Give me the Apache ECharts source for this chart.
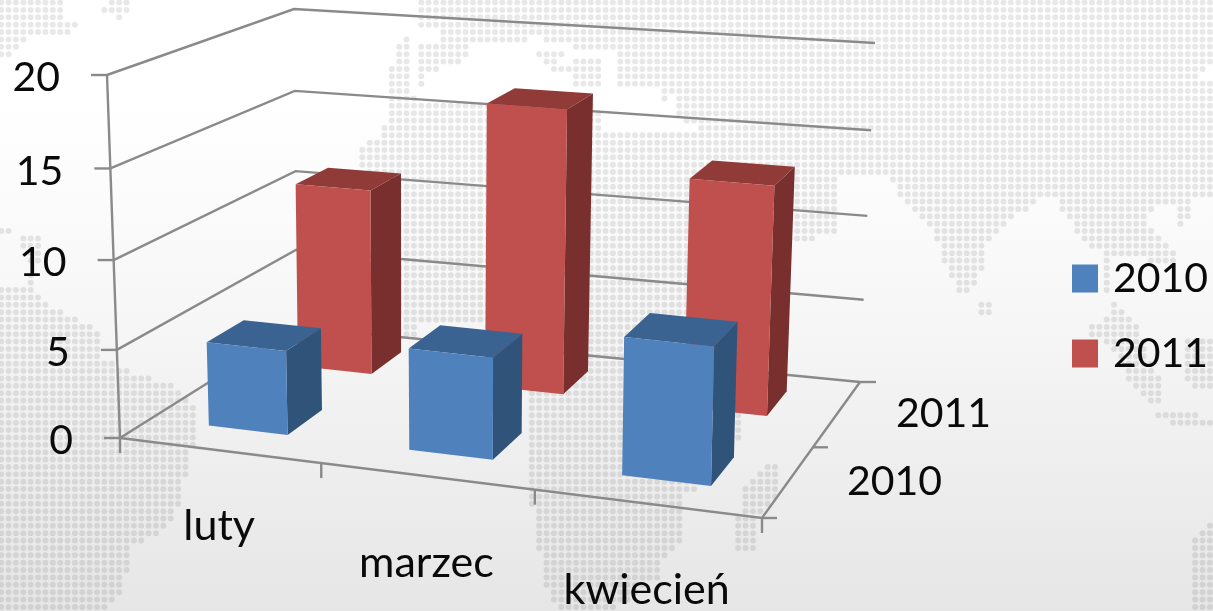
<!DOCTYPE html>
<html>
<head>
<meta charset="utf-8">
<style>html,body{margin:0;padding:0}#chart{width:1213px;height:611px}</style>
<script src="https://cdn.jsdelivr.net/npm/echarts@6/dist/echarts.min.js"></script>
</head>
<body>
<div id="chart"></div>
<script>
var categories = ['luty', 'marzec', 'kwiecień'];
var seriesNames = ['2010', '2011'];
var values2010 = [4.8, 5.7, 7.6];
var values2011 = [11.1, 16.7, 13.3];
var yTicks = [0, 5, 10, 15, 20];

// corners of the box: [depth][level], front/back and floor/top
var corner = {
  fl0: [120, 438], fl1: [107, 75], fr0: [762, 518], fr1: [772, 131],
  bl0: [297, 327], bl1: [294, 9], br0: [860, 382], br1: [875, 43]
};
var rowDepth = [[0.175, 0.39], [0.70, 0.885]];
var font = 'Lato, "Open Sans", sans-serif';
var lineColor = '#8a8a8a';

function mix(a, b, t) { return [a[0] + (b[0] - a[0]) * t, a[1] + (b[1] - a[1]) * t]; }

// u along categories, v front to back, w floor to top (all 0..1)
function project(u, v, w) {
  var uu = u / (1 + 0.095 * (1 - u));
  var ww = w / (1 + 0.04 * (1 - w));
  var front = mix(mix(corner.fl0, corner.fr0, uu), mix(corner.fl1, corner.fr1, uu), ww);
  var back = mix(mix(corner.bl0, corner.br0, uu), mix(corner.bl1, corner.br1, uu), ww);
  return mix(front, back, v);
}

function line(points, width) {
  return {
    type: 'polyline', shape: { points: points },
    style: { stroke: lineColor, lineWidth: width || 2.4, fill: null }
  };
}

function label(text, x, y, align, size) {
  return {
    type: 'text',
    style: { text: text, x: x, y: y, fontSize: size || 41, fontFamily: font, fill: '#0a0a0a', align: align || 'center', verticalAlign: 'middle' }
  };
}

function poly(points, color) {
  return { type: 'polygon', shape: { points: points }, style: { fill: color } };
}

function barItem(row, colors) {
  return function (params, api) {
    var cs = params.coordSys;
    var mid = api.coord([api.value(0), api.value(1)]);
    var half = api.size([1, 0])[0] * 0.2;
    var u0 = (mid[0] - half - cs.x) / cs.width;
    var u1 = (mid[0] + half - cs.x) / cs.width;
    var w = (cs.y + cs.height - mid[1]) / cs.height;
    var v0 = rowDepth[row][0], v1 = rowDepth[row][1];
    return {
      type: 'group',
      children: [
        poly([project(u1, v0, 0), project(u1, v1, 0), project(u1, v1, w), project(u1, v0, w)], colors[2]),
        poly([project(u0, v0, w), project(u1, v0, w), project(u1, v1, w), project(u0, v1, w)], colors[1]),
        poly([project(u0, v0, 0), project(u1, v0, 0), project(u1, v0, w), project(u0, v0, w)], colors[0])
      ]
    };
  };
}

function yTickItem(params, api) {
  var cs = params.coordSys;
  var val = yTicks[params.dataIndex];
  var w = (cs.y + cs.height - api.coord([0, val])[1]) / cs.height;
  var p = project(0, 0, w);
  var kids = [
    line([p, project(0, 1, w), project(1, 1, w)]),
    line([[p[0] - 16, p[1]], p]),
    label(String(val), p[0] - 47, p[1] + 3, 'right')
  ];
  if (val === 0) {
    kids.push(line([project(0, 0, 0), project(1, 0, 0), project(1, 1, 0)]));
    kids.push(line([project(0, 0, 0), project(0, 0, 1)]));
  }
  return { type: 'group', children: kids };
}

function catItem(params, api) {
  var cs = params.coordSys;
  var i = params.dataIndex;
  var mid = api.coord([i, 0]);
  var half = api.size([1, 0])[0] / 2;
  var c = project((mid[0] - cs.x) / cs.width, 0, 0);
  var a = project((mid[0] - half - cs.x) / cs.width, 0, 0);
  var b = project((mid[0] + half - cs.x) / cs.width, 0, 0);
  var kids = [
    line([a, [a[0], a[1] + 15]]),
    label(categories[i], c[0], c[1] + [76, 87, 86][i], 'center', 43)
  ];
  if (i === categories.length - 1) kids.push(line([b, [b[0], b[1] + 15]]));
  return { type: 'group', children: kids };
}

function depthItem(params) {
  var i = params.dataIndex;
  var c = project(1, i ? 0.75 : 0.25, 0);
  var a = project(1, i ? 0.52 : 0, 0);
  var kids = [
    line([a, [a[0] + 15, a[1]]]),
    label(seriesNames[i], c[0] + 108, c[1] - 2)
  ];
  if (i === 1) {
    var b = project(1, 1, 0);
    kids.push(line([b, [b[0] + 16, b[1]]]));
  }
  return { type: 'group', children: kids };
}

// dotted world map behind the chart
var land = [
  [[0,0],[62,0],[62,20],[78,22],[70,34],[25,40],[10,55],[0,55]],
  [[102,8],[112,0],[128,0],[128,12],[120,20],[115,20]],
  [[0,228],[12,228],[12,236],[0,236]],
  [[20,233],[42,233],[40,262],[30,262],[20,245]],
  [[27,275],[34,275],[34,285],[27,285]],
  [[0,285],[35,285],[40,300],[77,317],[98,333],[98,357],[127,370],[143,377],[172,383],[200,407],[200,437],[187,457],[187,473],[180,507],[172,523],[163,533],[143,540],[128,547],[128,570],[120,593],[107,607],[100,611],[0,611]],
  [[405,36],[412,40],[412,95],[420,98],[420,335],[400,335],[395,200],[358,165],[358,153],[380,133],[388,115],[388,70],[396,60],[396,45]],
  // eurasia and the northern rim
  [[420,0],[1213,0],[1213,62],[1195,75],[1213,85],[1213,195],[1200,200],[1156,208],[1146,217],[1153,227],[1166,240],[1176,253],[1176,262],[1150,262],[1135,253],[1108,260],[1110,297],[1100,297],[1100,253],[1080,240],[1065,213],[1056,200],[1036,200],[1023,213],[1010,220],[1001,233],[986,243],[986,260],[970,297],[960,297],[946,267],[940,247],[930,230],[910,207],[886,177],[813,172],[673,118],[673,97],[660,100],[660,90],[623,90],[615,75],[620,45],[420,25]],
  // northern atlantic islands
  [[440,24],[525,24],[525,42],[440,42]],
  [[420,46],[470,46],[465,60],[430,72],[420,90]],
  [[535,26],[625,26],[625,42],[600,52],[575,50],[572,40],[540,40]],
  [[505,52],[510,65],[504,65]],
  [[535,50],[565,50],[560,62],[570,72],[555,75],[540,58]],
  [[570,60],[600,60],[600,75],[605,85],[575,85],[568,72]],
  // africa
  [[420,100],[590,100],[600,108],[605,130],[673,130],[820,130],[820,177],[840,177],[840,232],[813,240],[790,240],[780,260],[760,300],[737,450],[693,490],[680,500],[680,540],[665,560],[656,580],[620,605],[610,611],[560,611],[548,600],[530,500],[527,490],[527,395],[480,325],[420,322]],
  [[770,462],[782,465],[782,490],[760,515],[757,548],[733,548],[733,522],[740,510],[745,485]],
  [[1113,300],[1125,310],[1140,325],[1145,345],[1165,390],[1165,402],[1145,402],[1130,385],[1115,355],[1108,345],[1090,335],[1090,322],[1105,322]],
  [[1158,411],[1185,411],[1212,418],[1212,425],[1170,425],[1158,418]],
  [[980,300],[995,300],[995,320],[980,312]],
  [[931,322],[936,322],[936,335],[931,335]],
  [[1186,337],[1213,337],[1213,388],[1195,388],[1186,380]],
  [[1175,207],[1190,207],[1186,228],[1175,228]],
  [[1195,537],[1213,518],[1213,611],[1190,611]]
];

function mapCanvas() {
  var cv = document.createElement('canvas');
  cv.width = 1213;
  cv.height = 611;
  var ctx = cv.getContext('2d');
  var paths = land.map(function (pts) {
    var p = new Path2D();
    pts.forEach(function (q, i) { if (i) p.lineTo(q[0], q[1]); else p.moveTo(q[0], q[1]); });
    p.closePath();
    return p;
  });
  ctx.fillStyle = 'rgba(0,0,0,0.09)';
  for (var y = 2.6; y < 611; y += 7.37) {
    for (var x = 1.2; x < 1213; x += 7.37) {
      for (var k = 0; k < paths.length; k++) {
        if (ctx.isPointInPath(paths[k], x, y)) {
          ctx.beginPath();
          ctx.arc(x, y, 3, 0, Math.PI * 2);
          ctx.fill();
          break;
        }
      }
    }
  }
  return cv;
}

var myChart = echarts.init(document.getElementById('chart'));

var option = {
  animation: false,
  backgroundColor: {
    type: 'linear', x: 0, y: 0, x2: 0, y2: 1,
    colorStops: [
      { offset: 0, color: '#ffffff' },
      { offset: 0.16, color: '#ffffff' },
      { offset: 0.5, color: '#f7f7f7' },
      { offset: 1, color: '#e6e6e6' }
    ]
  },
  graphic: [{
    type: 'image', left: 0, top: 0, z: -1, silent: true,
    style: { image: mapCanvas(), x: 0, y: 0, width: 1213, height: 611 }
  }],
  legend: {
    data: seriesNames,
    orient: 'vertical',
    left: 1072,
    top: 258,
    padding: 0,
    itemWidth: 26,
    itemHeight: 28,
    itemGap: 34,
    icon: 'rect',
    selectedMode: false,
    textStyle: { fontSize: 41, fontFamily: font, color: '#0a0a0a', padding: [0, 0, 0, 10] }
  },
  grid: { left: 0, right: 0, top: 0, bottom: 0 },
  xAxis: { type: 'category', data: categories, show: false },
  yAxis: { type: 'value', min: 0, max: 20, interval: 5, show: false },
  series: [
    {
      type: 'custom', name: 'yTicks', z: 1, silent: true,
      data: yTicks.map(function (t) { return [0, t]; }),
      renderItem: yTickItem
    },
    {
      type: 'custom', name: 'categories', z: 1, silent: true,
      data: categories.map(function (c, i) { return [i, 0]; }),
      renderItem: catItem
    },
    {
      type: 'custom', name: 'depth', z: 1, silent: true,
      data: seriesNames.map(function (s, i) { return [0, i]; }),
      renderItem: depthItem
    },
    {
      type: 'custom', name: '2011', z: 2,
      itemStyle: { color: '#C0504D' },
      data: values2011.map(function (v, i) { return [i, v]; }),
      renderItem: barItem(1, ['#C0504D', '#913B38', '#782F2D'])
    },
    {
      type: 'custom', name: '2010', z: 3,
      itemStyle: { color: '#4F81BD' },
      data: values2010.map(function (v, i) { return [i, v]; }),
      renderItem: barItem(0, ['#4F81BD', '#3B6391', '#2F5379'])
    }
  ]
};

myChart.setOption(option);
</script>
</body>
</html>
